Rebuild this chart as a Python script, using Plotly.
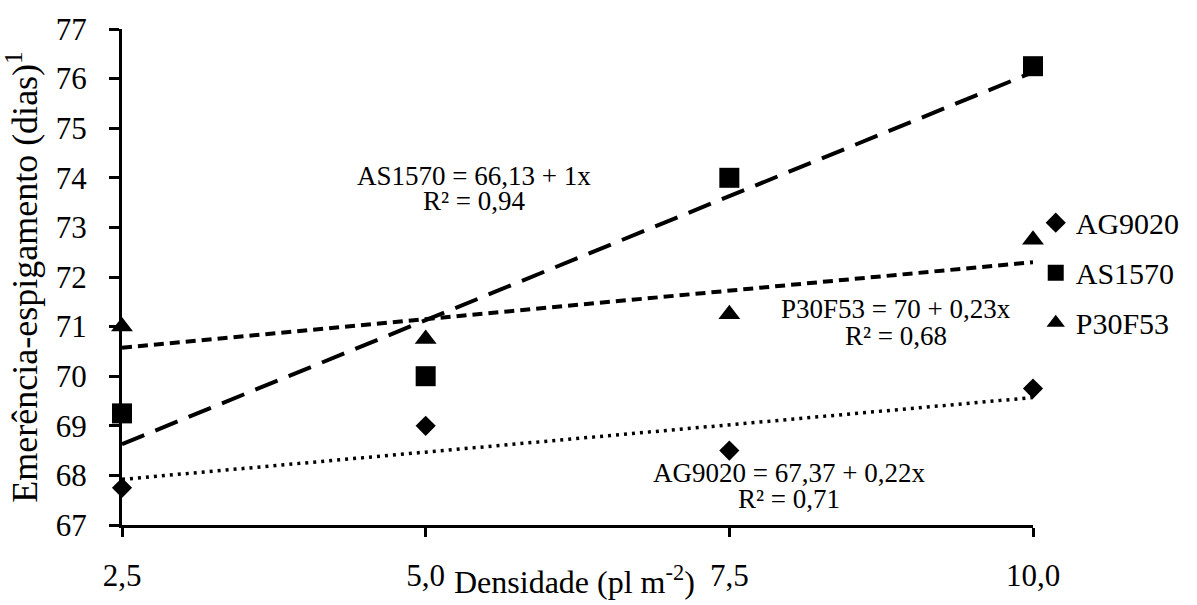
import plotly.graph_objects as go

# ---- data ----
densidade = [2.5, 5.0, 7.5, 10.0]
x_ticktext = ["2,5", "5,0", "7,5", "10,0"]
ag9020 = [67.75, 69.0, 68.5, 69.75]
as1570 = [69.25, 70.0, 74.0, 76.25]
p30f53 = [71.0, 70.75, 71.25, 72.75]

# trend-line coefficients (intercept, slope) as printed on the chart
ag_coef = (67.37, 0.22)
as_coef = (66.13, 1.0)
p3_coef = (70.0, 0.23)

eq_ag = ["AG9020 = 67,37 + 0,22x", "R² = 0,71"]
eq_as = ["AS1570 = 66,13 + 1x", "R² = 0,94"]
eq_p3 = ["P30F53 = 70 + 0,23x", "R² = 0,68"]

FONT = "Times New Roman, Liberation Serif, serif"
x_line = [densidade[0], densidade[-1]]

def trend(coef):
    return [coef[0] + coef[1] * v for v in x_line]

fig = go.Figure()

# trend lines
fig.add_trace(go.Scatter(x=x_line, y=trend(ag_coef), mode="lines",
                         line=dict(color="black", width=3.5, dash="3px,5px"),
                         showlegend=False, hoverinfo="skip", cliponaxis=False))
fig.add_trace(go.Scatter(x=x_line, y=trend(as_coef), mode="lines",
                         line=dict(color="black", width=4, dash="24px,12px"),
                         showlegend=False, hoverinfo="skip", cliponaxis=False))
fig.add_trace(go.Scatter(x=x_line, y=trend(p3_coef), mode="lines",
                         line=dict(color="black", width=4, dash="10px,6px"),
                         showlegend=False, hoverinfo="skip", cliponaxis=False))

# points
fig.add_trace(go.Scatter(x=densidade, y=ag9020, mode="markers", name="AG9020",
                         legendgroup="a",
                         marker=dict(symbol="diamond", size=15.5, color="black"),
                         cliponaxis=False))
fig.add_trace(go.Scatter(x=densidade, y=as1570, mode="markers", name="AS1570",
                         legendgroup="b",
                         marker=dict(symbol="square", size=20, color="black"),
                         cliponaxis=False))
fig.add_trace(go.Scatter(x=densidade, y=p30f53, mode="markers", name="P30F53",
                         legendgroup="c",
                         marker=dict(symbol="triangle-up", size=19, color="black"),
                         cliponaxis=False))

ann = []
def eq_annot(lines, xc, y1, y2):
    for txt, yy in zip(lines, (y1, y2)):
        ann.append(dict(x=xc, y=yy, xref="x", yref="y", text=txt, showarrow=False,
                        xanchor="center", yanchor="middle",
                        font=dict(family=FONT, size=27, color="black")))

eq_annot(eq_as, 5.40, 74.03, 73.53)
eq_annot(eq_p3, 8.87, 71.35, 70.82)
eq_annot(eq_ag, 7.99, 68.05, 67.52)

# x axis title as annotation (sits between tick labels)
ann.append(dict(x=0.497, y=-0.11, xref="paper", yref="paper",
                text="Densidade (pl m<sup>-2</sup>)", showarrow=False,
                xanchor="center", yanchor="middle",
                font=dict(family=FONT, size=32, color="black")))

fig.update_layout(
    width=1197, height=605,
    margin=dict(l=122, r=163, t=20, b=73),
    plot_bgcolor="white", paper_bgcolor="white",
    font=dict(family=FONT, size=30, color="black"),
    annotations=ann,
    legend=dict(x=1.003, y=0.662, xanchor="left", yanchor="top",
                tracegroupgap=8, traceorder="grouped",
                font=dict(family=FONT, size=30, color="black"),
                bgcolor="rgba(0,0,0,0)"),
    xaxis=dict(range=[2.5, 10.0], tickvals=densidade, ticktext=x_ticktext,
               showgrid=False, zeroline=False, showline=True, linecolor="black",
               linewidth=3, ticks="outside", ticklen=9, tickwidth=2.5,
               tickcolor="black", ticklabelstandoff=12,
               tickfont=dict(family=FONT, size=31, color="black")),
    yaxis=dict(range=[67, 77], dtick=1, showgrid=False, zeroline=False,
               showline=True, linecolor="black", linewidth=3, ticks="outside",
               ticklen=10, tickwidth=2.5, tickcolor="black", ticklabelstandoff=16,
               tickfont=dict(family=FONT, size=31, color="black"),
               title=dict(text="Emerência-espigamento (dias)<sup>1</sup>",
                          font=dict(family=FONT, size=36, color="black"),
                          standoff=12)),
)

fig.write_html("out.html")
